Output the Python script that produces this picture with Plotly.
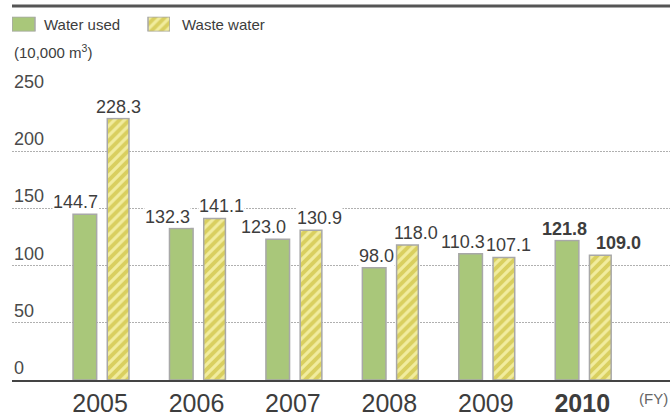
import plotly.graph_objects as go

# Fiscal years and annual volumes (10,000 m3)
years = ["2005", "2006", "2007", "2008", "2009", "2010"]
water_used = [144.7, 132.3, 123.0, 98.0, 110.3, 121.8]
waste_water = [228.3, 141.1, 130.9, 118.0, 107.1, 109.0]
y_ticks = [0, 50, 100, 150, 200, 250]

# styling
GREEN = "#a9c77a"
YELLOW_BG = "#d9cf5f"
YELLOW_FG = "#f1ec9e"
OUTLINE = "#a8a8a8"
TEXT = "#3d3d3d"
SANS = "Liberation Sans, Arial, sans-serif"

W, H = 670, 417
M_L, M_B = 12, 32
plot_h = H - M_B            # plot area height in px (top margin 0)
y_dom_top = 290 / plot_h    # value axis occupies the lower part

x_idx = list(range(len(years)))
latest = len(years) - 1

# bar geometry in category units
used_off, used_w = -0.28, 0.245
waste_off, waste_w = 0.075, 0.225

hatch = dict(shape="/", bgcolor=YELLOW_BG, fgcolor=YELLOW_FG, size=7,
             solidity=0.45, fillmode="replace")

fig = go.Figure()
fig.add_trace(go.Bar(
    x=x_idx, y=water_used, offset=used_off, width=used_w,
    marker=dict(color=GREEN, line=dict(color=OUTLINE, width=1.5)),
    name="Water used", showlegend=False, hoverinfo="skip"))
fig.add_trace(go.Bar(
    x=x_idx, y=waste_water, offset=waste_off, width=waste_w,
    marker=dict(color=YELLOW_BG, pattern=hatch,
                line=dict(color=OUTLINE, width=1.5)),
    name="Waste water", showlegend=False, hoverinfo="skip"))

# legend swatches drawn on a small auxiliary axis pair
fig.add_trace(go.Bar(
    x=[11.5], y=[1], width=[23], xaxis="x2", yaxis="y2",
    marker=dict(color=GREEN, line=dict(color=OUTLINE, width=1.5)),
    showlegend=False, hoverinfo="skip"))
fig.add_trace(go.Bar(
    x=[147], y=[1], width=[22], xaxis="x2", yaxis="y2",
    marker=dict(color=YELLOW_BG, pattern=hatch,
                line=dict(color=OUTLINE, width=1.5)),
    showlegend=False, hoverinfo="skip"))

annotations = []

# value labels, nudged sideways where neighbours would collide
used_shift = [-9, -14, -14, 2, -8, -3]
waste_shift = [0, 7, 8, 9, 5, 18]
for i in x_idx:
    bold = i == latest
    for vals, off, w, shifts in ((water_used, used_off, used_w, used_shift),
                                 (waste_water, waste_off, waste_w, waste_shift)):
        v = vals[i]
        txt = f"{v:.1f}"
        annotations.append(dict(
            x=i + off + w / 2, y=v, xref="x", yref="y",
            text=f"<b>{txt}</b>" if bold else txt,
            showarrow=False, xanchor="center", yanchor="bottom",
            xshift=shifts[i], yshift=1, bgcolor="white", borderpad=0,
            font=dict(family=SANS, size=18, color=TEXT)))

# value-axis labels sit above their gridlines
for t in y_ticks:
    annotations.append(dict(
        x=0, y=t, xref="paper", yref="y", text=str(t),
        showarrow=False, xanchor="left", yanchor="bottom", yshift=0,
        font=dict(family=SANS, size=18, color="#4a4a4a")))

# legend texts
annotations.append(dict(
    x=30 / (W - M_L), y=(plot_h - 25) / plot_h, xref="paper", yref="paper",
    text="Water used", showarrow=False, xanchor="left", yanchor="middle",
    font=dict(family=SANS, size=15, color=TEXT)))
annotations.append(dict(
    x=168 / (W - M_L), y=(plot_h - 25) / plot_h, xref="paper", yref="paper",
    text="Waste water", showarrow=False, xanchor="left", yanchor="middle",
    font=dict(family=SANS, size=15, color=TEXT)))
# unit
annotations.append(dict(
    x=0, y=(plot_h - 52) / plot_h, xref="paper", yref="paper",
    text="(10,000 m<sup>3</sup>)", showarrow=False, xanchor="left",
    yanchor="middle", font=dict(family=SANS, size=15, color=TEXT)))
# fiscal-year marker
annotations.append(dict(
    x=1, y=0, xref="paper", yref="paper", text="(FY)", showarrow=False,
    xanchor="right", yanchor="top", yshift=-8, xshift=0,
    font=dict(family=SANS, size=15, color="#666666")))

shapes = [dict(type="line", xref="paper", yref="paper",
               x0=0, x1=1, y0=(plot_h - 6) / plot_h, y1=(plot_h - 6) / plot_h,
               line=dict(color="#555555", width=3))]

tick_text = [f"<b>{y}</b>" if i == latest else y for i, y in enumerate(years)]

fig.update_layout(
    width=W, height=H,
    margin=dict(l=M_L, r=0, t=0, b=M_B, pad=0),
    paper_bgcolor="white", plot_bgcolor="white",
    barmode="overlay",
    annotations=annotations, shapes=shapes,
    xaxis=dict(range=[-0.913, 5.91], tickvals=x_idx, ticktext=tick_text,
               showgrid=False, zeroline=False, showline=True,
               linecolor="#444444", linewidth=2, ticks="",
               tickfont=dict(family=SANS, size=25, color=TEXT),
               fixedrange=True),
    yaxis=dict(domain=[0, y_dom_top], range=[0, 250], tickvals=y_ticks,
               showticklabels=False, showgrid=True, gridcolor="#b0b0b0",
               griddash="2px,1px", gridwidth=1, zeroline=False,
               fixedrange=True),
    xaxis2=dict(domain=[0, 158 / (W - M_L)], range=[0, 158], anchor="y2",
                visible=False, fixedrange=True),
    yaxis2=dict(domain=[(plot_h - 32) / plot_h, (plot_h - 17) / plot_h],
                range=[0, 1], anchor="x2", visible=False, fixedrange=True),
)

fig.write_html("out.html")
